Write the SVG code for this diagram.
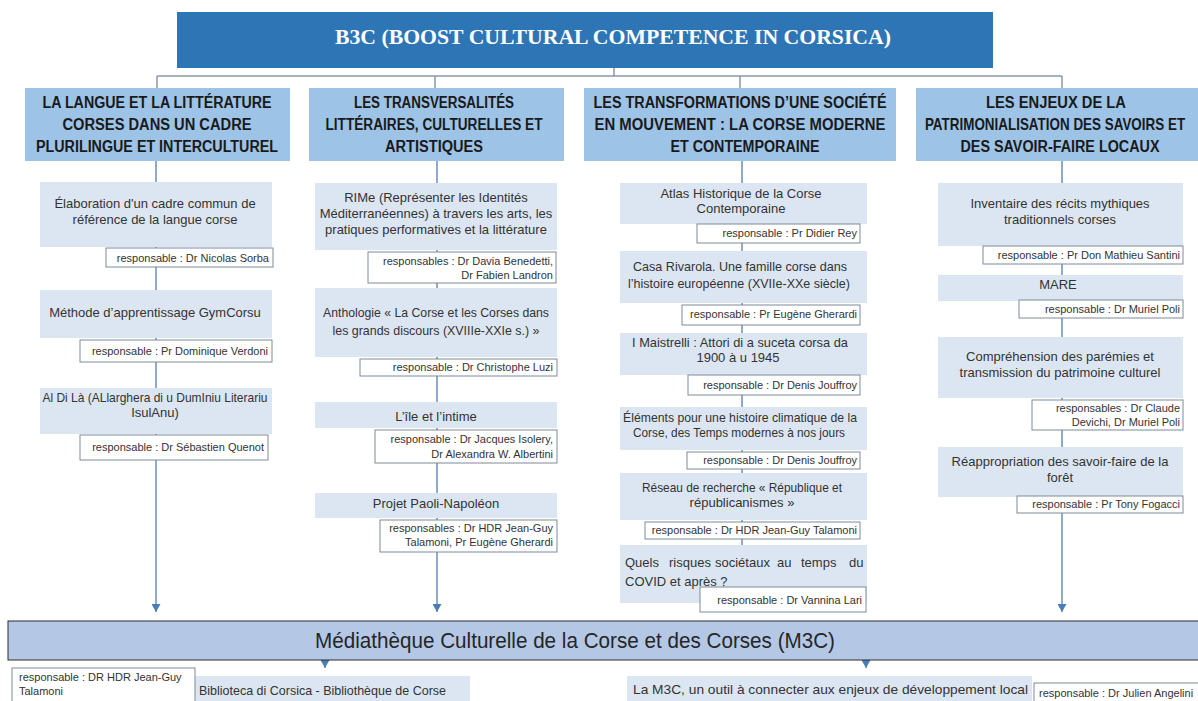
<svg xmlns="http://www.w3.org/2000/svg" width="1198" height="701" viewBox="0 0 1198 701">
<defs>
<marker id="arr" markerUnits="userSpaceOnUse" markerWidth="9" markerHeight="9" refX="8" refY="4.5" orient="auto">
<path d="M0,0 L8,4.5 L0,9 z" fill="#4A7EBB"/>
</marker>
<style>
.hdr{fill:#9DC3E6}
.item{fill:#DCE6F2}
.resp{fill:#FFFFFF;stroke:#7F8A99;stroke-width:1}
.top{stroke:#8A99AD;stroke-width:1.5;fill:none}
.col{stroke:#6C8DB8;stroke-width:1.5;fill:none}
.ht{font-family:"Liberation Sans",Arial,sans-serif;font-weight:bold;font-size:16px;fill:#1A1A1A;text-anchor:middle}
.it{font-family:"Liberation Sans",Arial,sans-serif;font-size:13px;fill:#333333;text-anchor:middle}
.itl{font-family:"Liberation Sans",Arial,sans-serif;font-size:13px;fill:#333333;text-anchor:start}
.rt{font-family:"Liberation Sans",Arial,sans-serif;font-size:11px;fill:#333333;text-anchor:end}
.lt{font-family:"Liberation Sans",Arial,sans-serif;font-size:11px;fill:#333333;text-anchor:start}
</style>
</defs>
<rect width="1198" height="701" fill="#FFFFFF"/>

<g id="connectors">
<path class="top" d="M614,68 V76 M157,76 H1062 M157,76 V88 M435,76 V88 M740,76 V88 M1062,76 V88"/>
<path class="col" d="M156,160 V612" marker-end="url(#arr)"/>
<path class="col" d="M437,160 V612" marker-end="url(#arr)"/>
<path class="col" d="M742,160 V600"/>
<path class="col" d="M747,606 V612" marker-end="url(#arr)"/>
<path class="col" d="M1062,160 V612" marker-end="url(#arr)"/>
<path class="col" d="M325,660 V668" marker-end="url(#arr)"/>
<path class="col" d="M866,660 V668" marker-end="url(#arr)"/>
</g>

<g id="banner">
<rect x="177" y="12" width="816" height="56" fill="#2E75B6"/>
<text x="613" y="44" font-family="'Liberation Serif',serif" font-weight="bold" font-size="21" fill="#FFFFFF" text-anchor="middle" textLength="556" lengthAdjust="spacingAndGlyphs">B3C (BOOST CULTURAL COMPETENCE IN CORSICA)</text>
</g>

<g id="header1">
<rect class="hdr" x="25" y="88" width="265" height="73"/>
<text class="ht" x="157" y="108" textLength="229" lengthAdjust="spacingAndGlyphs">LA LANGUE ET LA LITTÉRATURE</text>
<text class="ht" x="157" y="130" textLength="189" lengthAdjust="spacingAndGlyphs">CORSES DANS UN CADRE</text>
<text class="ht" x="157" y="152" textLength="242" lengthAdjust="spacingAndGlyphs">PLURILINGUE ET INTERCULTUREL</text>
</g>
<g id="header2">
<rect class="hdr" x="309" y="88" width="255" height="73"/>
<text class="ht" x="434" y="108" textLength="160" lengthAdjust="spacingAndGlyphs">LES TRANSVERSALITÉS</text>
<text class="ht" x="434" y="130" textLength="217" lengthAdjust="spacingAndGlyphs">LITTÉRAIRES, CULTURELLES ET</text>
<text class="ht" x="434" y="152" textLength="98" lengthAdjust="spacingAndGlyphs">ARTISTIQUES</text>
</g>
<g id="header3">
<rect class="hdr" x="584" y="88" width="312" height="73"/>
<text class="ht" x="740" y="108" textLength="293" lengthAdjust="spacingAndGlyphs">LES TRANSFORMATIONS D’UNE SOCIÉTÉ</text>
<text class="ht" x="740" y="130" textLength="291" lengthAdjust="spacingAndGlyphs">EN MOUVEMENT : LA CORSE MODERNE</text>
<text class="ht" x="745" y="152" textLength="149" lengthAdjust="spacingAndGlyphs">ET CONTEMPORAINE</text>
</g>
<g id="header4">
<rect class="hdr" x="916" y="88" width="290" height="73"/>
<text class="ht" x="1056" y="108" textLength="140" lengthAdjust="spacingAndGlyphs">LES ENJEUX DE LA</text>
<text class="ht" transform="translate(1055,130) scale(0.84,1)" x="0" y="0">PATRIMONIALISATION DES SAVOIRS ET</text>
<text class="ht" x="1060" y="152" textLength="199" lengthAdjust="spacingAndGlyphs">DES SAVOIR-FAIRE LOCAUX</text>
</g>

<!-- Column 1 -->
<g id="c1-item1">
<rect class="item" x="40" y="182" width="232" height="65"/>
<text class="it" x="155" y="208">Élaboration d'un cadre commun de</text>
<text class="it" x="155" y="224">référence de la langue corse</text>
</g>
<g id="c1-resp1">
<rect class="resp" x="106" y="248" width="167" height="19"/>
<text class="rt" x="269" y="262">responsable : Dr Nicolas Sorba</text>
</g>
<g id="c1-item2">
<rect class="item" x="40" y="290" width="232" height="48"/>
<text class="it" x="155" y="317">Méthode d’apprentissage GymCorsu</text>
</g>
<g id="c1-resp2">
<rect class="resp" x="80" y="340" width="192" height="22"/>
<text class="rt" x="268" y="355">responsable : Pr Dominique Verdoni</text>
</g>
<g id="c1-item3">
<rect class="item" x="40" y="388" width="232" height="46"/>
<text class="it" x="155" y="402" textLength="225" lengthAdjust="spacingAndGlyphs">Al Di Là (ALlarghera di u DumIniu Literariu</text>
<text class="it" x="155" y="417">IsulAnu)</text>
</g>
<g id="c1-resp3">
<rect class="resp" x="80" y="435" width="188" height="25"/>
<text class="rt" x="264" y="451">responsable : Dr Sébastien Quenot</text>
</g>

<!-- Column 2 -->
<g id="c2-item1">
<rect class="item" x="315" y="183" width="242" height="67"/>
<text class="it" x="436" y="202">RIMe (Représenter les Identités</text>
<text class="it" x="436" y="218">Méditerranéennes) à travers les arts, les</text>
<text class="it" x="436" y="234">pratiques performatives et la littérature</text>
</g>
<g id="c2-resp1">
<rect class="resp" x="368" y="252" width="188" height="31"/>
<text class="rt" x="553" y="265">responsables : Dr Davia Benedetti,</text>
<text class="rt" x="553" y="279">Dr Fabien Landron</text>
</g>
<g id="c2-item2">
<rect class="item" x="315" y="288" width="242" height="69"/>
<text class="it" x="436" y="317" textLength="226" lengthAdjust="spacingAndGlyphs">Anthologie « La Corse et les Corses dans</text>
<text class="it" x="436" y="335" textLength="207" lengthAdjust="spacingAndGlyphs">les grands discours (XVIIIe-XXIe s.) »</text>
</g>
<g id="c2-resp2">
<rect class="resp" x="360" y="359" width="197" height="17"/>
<text class="rt" x="553" y="371">responsable : Dr Christophe Luzi</text>
</g>
<g id="c2-item3">
<rect class="item" x="315" y="402" width="242" height="26"/>
<text class="it" x="436" y="421">L’île et l’intime</text>
</g>
<g id="c2-resp3">
<rect class="resp" x="375" y="430" width="182" height="33"/>
<text class="rt" x="553" y="443">responsable : Dr Jacques Isolery,</text>
<text class="rt" x="553" y="458">Dr Alexandra W. Albertini</text>
</g>
<g id="c2-item4">
<rect class="item" x="315" y="493" width="242" height="25"/>
<text class="it" x="436" y="508">Projet Paoli-Napoléon</text>
</g>
<g id="c2-resp4">
<rect class="resp" x="380" y="520" width="177" height="32"/>
<text class="rt" x="553" y="532">responsables : Dr HDR Jean-Guy</text>
<text class="rt" x="553" y="546">Talamoni, Pr Eugène  Gherardi</text>
</g>

<!-- Column 3 -->
<g id="c3-item1">
<rect class="item" x="620" y="183" width="247" height="41"/>
<text class="it" x="741" y="198">Atlas Historique de la Corse</text>
<text class="it" x="741" y="213">Contemporaine</text>
</g>
<g id="c3-resp1">
<rect class="resp" x="697" y="224" width="163" height="19"/>
<text class="rt" x="857" y="237">responsable : Pr Didier Rey</text>
</g>
<g id="c3-item2">
<rect class="item" x="620" y="251" width="247" height="52"/>
<text class="it" x="740" y="271" textLength="214" lengthAdjust="spacingAndGlyphs">Casa Rivarola. Une famille corse dans</text>
<text class="it" x="739" y="288" textLength="222" lengthAdjust="spacingAndGlyphs">l’histoire européenne (XVIIe-XXe siècle)</text>
</g>
<g id="c3-resp2">
<rect class="resp" x="682" y="305" width="178" height="20"/>
<text class="rt" x="857" y="318">responsable : Pr Eugène  Gherardi</text>
</g>
<g id="c3-item3">
<rect class="item" x="620" y="333" width="247" height="42"/>
<text class="it" x="740" y="347" textLength="216" lengthAdjust="spacingAndGlyphs">I Maistrelli : Attori di a suceta corsa da</text>
<text class="it" x="738" y="362">1900  à u 1945</text>
</g>
<g id="c3-resp3">
<rect class="resp" x="688" y="375" width="172" height="20"/>
<text class="rt" x="857" y="389">responsable : Dr Denis Jouffroy</text>
</g>
<g id="c3-item4">
<rect class="item" x="620" y="407" width="247" height="43"/>
<text class="it" x="740" y="422" textLength="234" lengthAdjust="spacingAndGlyphs">Éléments pour une histoire climatique de la</text>
<text class="it" x="739" y="437" textLength="212" lengthAdjust="spacingAndGlyphs">Corse, des Temps modernes à nos jours</text>
</g>
<g id="c3-resp4">
<rect class="resp" x="687" y="452" width="173" height="17"/>
<text class="rt" x="857" y="464">responsable : Dr Denis Jouffroy</text>
</g>
<g id="c3-item5">
<rect class="item" x="620" y="473" width="247" height="47"/>
<text class="it" x="742" y="492" textLength="200" lengthAdjust="spacingAndGlyphs">Réseau de recherche « République et</text>
<text class="it" x="742" y="507">républicanismes  »</text>
</g>
<g id="c3-resp5">
<rect class="resp" x="645" y="522" width="215" height="17"/>
<text class="rt" x="857" y="534">responsable : Dr HDR Jean-Guy Talamoni</text>
</g>
<g id="c3-item6">
<rect class="item" x="620" y="545" width="247" height="58"/>
<text class="itl" y="567"><tspan x="625">Quels</tspan><tspan x="669">risques</tspan><tspan x="715">sociétaux</tspan><tspan x="777">au</tspan><tspan x="801">temps</tspan><tspan x="849">du</tspan></text>
<text class="itl" x="625" y="586">COVID et après ?</text>
</g>
<g id="c3-resp6">
<rect class="resp" x="700" y="587" width="166" height="25"/>
<text class="rt" x="862" y="604">responsable : Dr Vannina Lari</text>
</g>

<!-- Column 4 -->
<g id="c4-item1">
<rect class="item" x="938" y="183" width="245" height="63"/>
<text class="it" x="1060" y="208">Inventaire des récits mythiques</text>
<text class="it" x="1060" y="224">traditionnels corses</text>
</g>
<g id="c4-resp1">
<rect class="resp" x="983" y="246" width="200" height="18"/>
<text class="rt" x="1180" y="259">responsable : Pr Don Mathieu Santini</text>
</g>
<g id="c4-item2">
<rect class="item" x="938" y="275" width="245" height="26"/>
<text class="it" x="1058" y="289">MARE</text>
</g>
<g id="c4-resp2">
<rect class="resp" x="1019" y="300" width="164" height="18"/>
<text class="rt" x="1180" y="313">responsable : Dr Muriel Poli</text>
</g>
<g id="c4-item3">
<rect class="item" x="938" y="337" width="245" height="61"/>
<text class="it" x="1060" y="361">Compréhension des parémies et</text>
<text class="it" x="1060" y="377">transmission du patrimoine culturel</text>
</g>
<g id="c4-resp3">
<rect class="resp" x="1032" y="400" width="151" height="30"/>
<text class="rt" x="1180" y="412">responsables : Dr Claude</text>
<text class="rt" x="1180" y="426">Devichi, Dr Muriel Poli</text>
</g>
<g id="c4-item4">
<rect class="item" x="938" y="447" width="245" height="50"/>
<text class="it" x="1060" y="466">Réappropriation des savoir-faire de la</text>
<text class="it" x="1060" y="482">forêt</text>
</g>
<g id="c4-resp4">
<rect class="resp" x="1017" y="496" width="166" height="17"/>
<text class="rt" x="1180" y="508">responsable : Pr Tony Fogacci</text>
</g>

<!-- M3C -->
<g id="m3c">
<rect x="8" y="621" width="1195" height="39" fill="#B4C8E6" stroke="#2B2B2B" stroke-width="1"/>
<text x="575" y="648" font-family="'Liberation Sans',Arial,sans-serif" font-size="22" fill="#262626" text-anchor="middle" textLength="520" lengthAdjust="spacingAndGlyphs">Médiathèque Culturelle de la Corse et des Corses (M3C)</text>
</g>
<g id="bib">
<rect class="item" x="195" y="676" width="275" height="30"/>
<text x="199" y="695" font-family="'Liberation Sans',Arial,sans-serif" font-size="13" fill="#333333" textLength="247" lengthAdjust="spacingAndGlyphs">Biblioteca di Corsica - Bibliothèque de Corse</text>
</g>
<g id="bib-resp">
<rect class="resp" x="12" y="668" width="183" height="40"/>
<text class="lt" x="19" y="681">responsable : DR HDR Jean-Guy</text>
<text class="lt" x="19" y="695">Talamoni</text>
</g>
<g id="dev">
<rect class="item" x="627" y="676" width="405" height="30"/>
<text x="633" y="694" font-family="'Liberation Sans',Arial,sans-serif" font-size="13" fill="#333333" textLength="395" lengthAdjust="spacingAndGlyphs">La M3C, un outil à connecter aux enjeux de développement local</text>
</g>
<g id="dev-resp">
<rect class="resp" x="1034" y="683" width="170" height="25"/>
<text class="lt" x="1039" y="697">responsable : Dr Julien Angelini</text>
</g>
</svg>
